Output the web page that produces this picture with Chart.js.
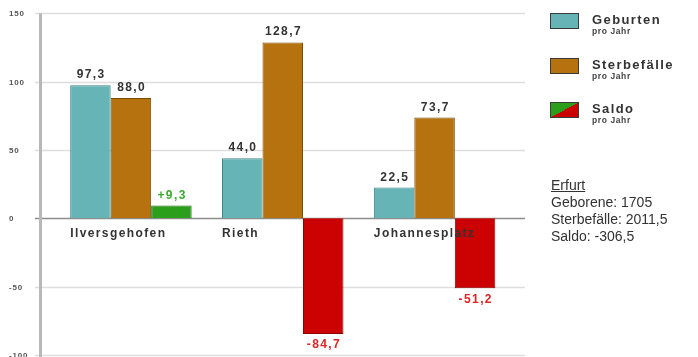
<!DOCTYPE html>
<html lang="de">
<head>
<meta charset="utf-8">
<title>Geburten und Sterbefälle pro Jahr</title>
<script src="https://cdn.jsdelivr.net/npm/chart.js@4/dist/chart.umd.min.js"></script>
<style>
  html, body { margin: 0; padding: 0; background: #ffffff; }
  #wrap { position: relative; width: 698px; height: 357px; overflow: hidden; font-family: "Liberation Sans", Arial, sans-serif; }
  #chart { position: absolute; left: 0; top: 0; }
  .legend-item { position: absolute; left: 550px; width: 140px; height: 34px; }
  .swatch { position: absolute; left: 0; top: 0; width: 27px; height: 14px; border: 1px solid #3a3a3a; box-sizing: content-box; }
  .lg-title { position: absolute; left: 42px; top: 0px; font-weight: bold; font-size: 13px; letter-spacing: 1.4px; color: #333; line-height: 14px; white-space: nowrap; }
  .lg-sub { position: absolute; left: 42px; top: 13px; font-weight: bold; font-size: 8.5px; letter-spacing: 0.6px; color: #444; line-height: 10px; white-space: nowrap; }
  #totals { position: absolute; left: 551px; top: 177px; font-size: 14px; line-height: 17px; color: #333; white-space: nowrap; }
  #totals .head { text-decoration: underline; }
</style>
</head>
<body>
<div id="wrap">
  <canvas id="chart" width="698" height="357"></canvas>
  <div id="legend"></div>
  <div id="totals"></div>
</div>
<script>
// Stadtteile und Jahreswerte
const categories = ['Ilversgehofen', 'Rieth', 'Johannesplatz'];
const geburten = [97.3, 44.0, 22.5];
const sterbefaelle = [88.0, 128.7, 73.7];
const saldo = [9.3, -84.7, -51.2];
const yTicks = [150, 100, 50, 0, -50, -100];
const seriesNames = ['Geburten', 'Sterbefälle', 'Saldo'];
const seriesSub = 'pro Jahr';
const totalsTitle = 'Erfurt';
const totalsLines = ['Geborene: 1705', 'Sterbefälle: 2011,5', 'Saldo: -306,5'];

const TEAL = '#66b4b6', TEAL_B = '#3f8688';
const BROWN = '#b5720e', BROWN_B = '#7a4c06';
const GREEN = '#2b9e1c', GREEN_B = '#1d6b12';
const RED = '#cc0202', RED_B = '#8c0000';

const fmt = (v, plus) => (plus && v > 0 ? '+' : '') + v.toFixed(1).replace('.', ',');

// Achse, Gitterlinien und Achsenbeschriftung
const gridPlugin = {
  id: 'grid',
  beforeDatasetsDraw(chart) {
    const { ctx } = chart;
    const y = chart.scales.y;
    ctx.save();
    yTicks.forEach(v => {
      const py = Math.round(y.getPixelForValue(v)) + 0.5;
      ctx.beginPath();
      ctx.strokeStyle = v === 0 ? '#8c8c8c' : '#dedede';
      ctx.lineWidth = v === 0 ? 1.5 : 1.5;
      ctx.moveTo(35, py);
      ctx.lineTo(525, py);
      ctx.stroke();
      ctx.fillStyle = '#555';
      ctx.font = 'bold 8px "Liberation Sans", Arial, sans-serif';
      ctx.letterSpacing = '0.8px';
      ctx.textAlign = 'left';
      ctx.textBaseline = 'middle';
      ctx.fillText(String(v), 9, py + 0.5);
    });
    ctx.beginPath();
    ctx.strokeStyle = '#b8b8b8';
    ctx.lineWidth = 3;
    ctx.moveTo(40.5, y.getPixelForValue(150));
    ctx.lineTo(40.5, 357);
    ctx.stroke();
    ctx.restore();
  },
  afterDatasetsDraw(chart) {
    const { ctx } = chart;
    ctx.save();
    ctx.letterSpacing = '1.4px';
    ctx.font = 'bold 12px "Liberation Sans", Arial, sans-serif';
    // Wertebeschriftungen
    chart.data.datasets.forEach((ds, di) => {
      const meta = chart.getDatasetMeta(di);
      meta.data.forEach((bar, i) => {
        const v = ds.data[i];
        ctx.textAlign = 'center';
        if (di === 2) {
          ctx.fillStyle = v >= 0 ? '#3aaa30' : '#e02424';
        } else {
          ctx.fillStyle = '#333';
        }
        if (v >= 0) {
          ctx.textBaseline = 'alphabetic';
          ctx.fillText(fmt(v, di === 2), bar.x + 0.7, bar.y - 7);
        } else {
          ctx.textBaseline = 'top';
          ctx.fillText(fmt(v, false), bar.x + 0.7, bar.y + 5);
        }
      });
    });
    // Kategorienamen unter der Nulllinie
    const first = chart.getDatasetMeta(0);
    const y0 = chart.scales.y.getPixelForValue(0);
    ctx.fillStyle = '#333';
    ctx.textAlign = 'left';
    ctx.textBaseline = 'middle';
    categories.forEach((c, i) => {
      const bar = first.data[i];
      ctx.fillText(c, bar.x - bar.width / 2, y0 + 15);
    });
    ctx.restore();
  }
};

const chart = new Chart(document.getElementById('chart'), {
  type: 'bar',
  data: {
    labels: categories,
    datasets: [
      { label: seriesNames[0], data: geburten, backgroundColor: TEAL, borderColor: TEAL_B, borderWidth: 1 },
      { label: seriesNames[1], data: sterbefaelle, backgroundColor: BROWN, borderColor: BROWN_B, borderWidth: 1 },
      { label: seriesNames[2], data: saldo,
        backgroundColor: saldo.map(v => v >= 0 ? GREEN : RED),
        borderColor: saldo.map(v => v >= 0 ? GREEN_B : RED_B), borderWidth: 1 }
    ]
  },
  options: {
    responsive: false,
    animation: false,
    layout: { padding: { left: 55, right: 187.5, top: 13.3, bottom: 2 } },
    datasets: { bar: { categoryPercentage: 0.8, barPercentage: 1.0 } },
    plugins: { legend: { display: false }, tooltip: { enabled: false } },
    scales: {
      x: { display: false },
      y: { display: false, min: -100, max: 150, ticks: { stepSize: 50 } }
    }
  },
  plugins: [gridPlugin]
});

// Legende
const legendTops = [13, 58, 102];
const legend = document.getElementById('legend');
chart.data.datasets.forEach((ds, i) => {
  const item = document.createElement('div');
  item.className = 'legend-item';
  item.style.top = legendTops[i] + 'px';
  const sw = document.createElement('div');
  sw.className = 'swatch';
  if (i === 2) {
    sw.style.background = `linear-gradient(to top left, ${RED} 50%, ${GREEN} 50%)`;
  } else {
    sw.style.background = ds.backgroundColor;
  }
  const t = document.createElement('div');
  t.className = 'lg-title';
  t.textContent = ds.label;
  const s = document.createElement('div');
  s.className = 'lg-sub';
  s.textContent = seriesSub;
  item.append(sw, t, s);
  legend.appendChild(item);
});

// Gesamtwerte der Stadt
const totals = document.getElementById('totals');
const head = document.createElement('div');
head.className = 'head';
head.textContent = totalsTitle;
totals.appendChild(head);
totalsLines.forEach(l => {
  const d = document.createElement('div');
  d.textContent = l;
  totals.appendChild(d);
});
</script>
</body>
</html>
